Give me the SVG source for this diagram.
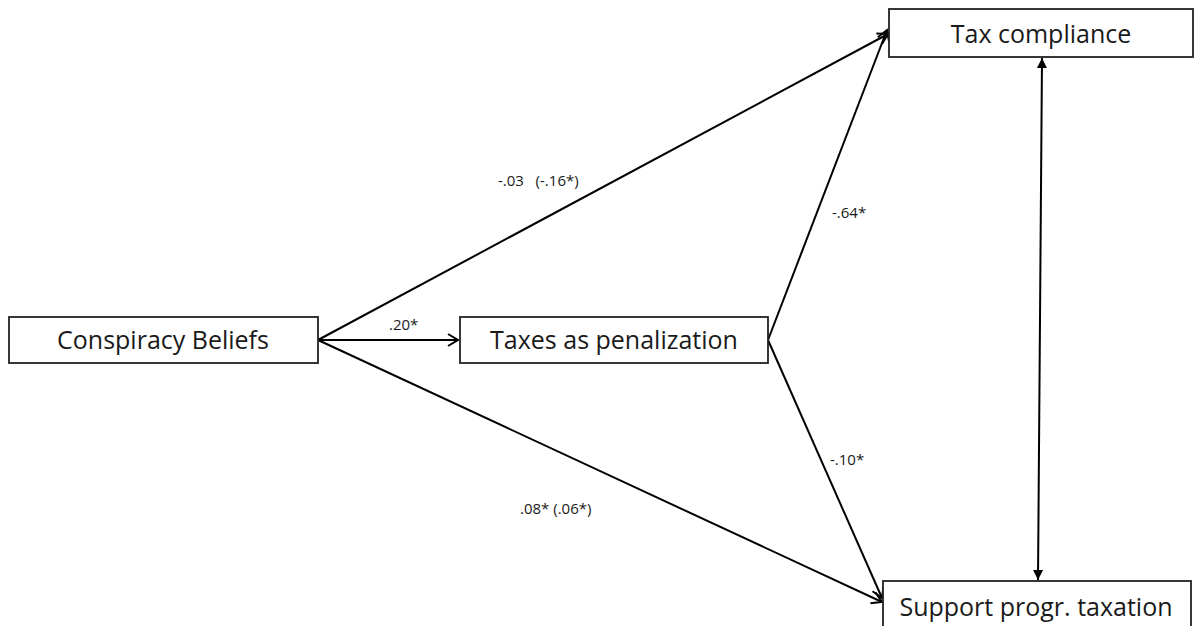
<svg xmlns="http://www.w3.org/2000/svg" width="1200" height="626" viewBox="0 0 1200 626">
<style>
.box{fill:#fff;stroke:#222;stroke-width:1.8}
.nt{font-family:"Open Sans",sans-serif;font-size:25px;fill:#1a1a1a;text-anchor:middle}
.lb{font-family:"Open Sans",sans-serif;font-size:15px;fill:#1a1a1a;white-space:pre}
.ln{stroke:#000;stroke-width:2;fill:none}
</style>
<defs>
<marker id="open" markerWidth="14" markerHeight="14" refX="11" refY="7" orient="auto" markerUnits="userSpaceOnUse">
<path d="M1,1 L11,7 L1,13" fill="none" stroke="#000" stroke-width="2"/>
</marker>
<marker id="fill" markerWidth="12" markerHeight="12" refX="10" refY="6" orient="auto-start-reverse" markerUnits="userSpaceOnUse">
<path d="M0,1 L10,6 L0,11 Z" fill="#000"/>
</marker>
</defs>
<rect width="1200" height="626" fill="#fff"/>
<g id="connectors">
<line class="ln" x1="318" y1="340" x2="888" y2="34" marker-end="url(#open)"/>
<line class="ln" x1="768" y1="340" x2="887" y2="30" marker-end="url(#open)"/>
<line class="ln" x1="318" y1="340" x2="458" y2="340" marker-end="url(#open)"/>
<line class="ln" x1="318" y1="340" x2="882" y2="602" marker-end="url(#open)"/>
<line class="ln" x1="768" y1="340" x2="882" y2="598" marker-end="url(#open)"/>
<line class="ln" x1="1042" y1="58" x2="1038" y2="580" marker-start="url(#fill)" marker-end="url(#fill)"/>
<text class="lb" x="498" y="186" xml:space="preserve">-.03   (-.16*)</text>
<text class="lb" x="389" y="330">.20*</text>
<text class="lb" x="832" y="218">-.64*</text>
<text class="lb" x="830" y="465">-.10*</text>
<text class="lb" x="520" y="514">.08* (.06*)</text>
</g>
<g id="tax-compliance">
<rect class="box" x="889" y="9" width="304" height="48"/>
<text class="nt" x="1041" y="43">Tax compliance</text>
</g>
<g id="support">
<rect class="box" x="883" y="581" width="308" height="50"/>
<text class="nt" x="1036" y="616">Support progr. taxation</text>
</g>
<g id="conspiracy">
<rect class="box" x="9" y="317" width="309" height="46"/>
<text class="nt" x="163" y="349">Conspiracy Beliefs</text>
</g>
<g id="taxes-penalization">
<rect class="box" x="460" y="317" width="308" height="46"/>
<text class="nt" x="614" y="349">Taxes as penalization</text>
</g>
</svg>
